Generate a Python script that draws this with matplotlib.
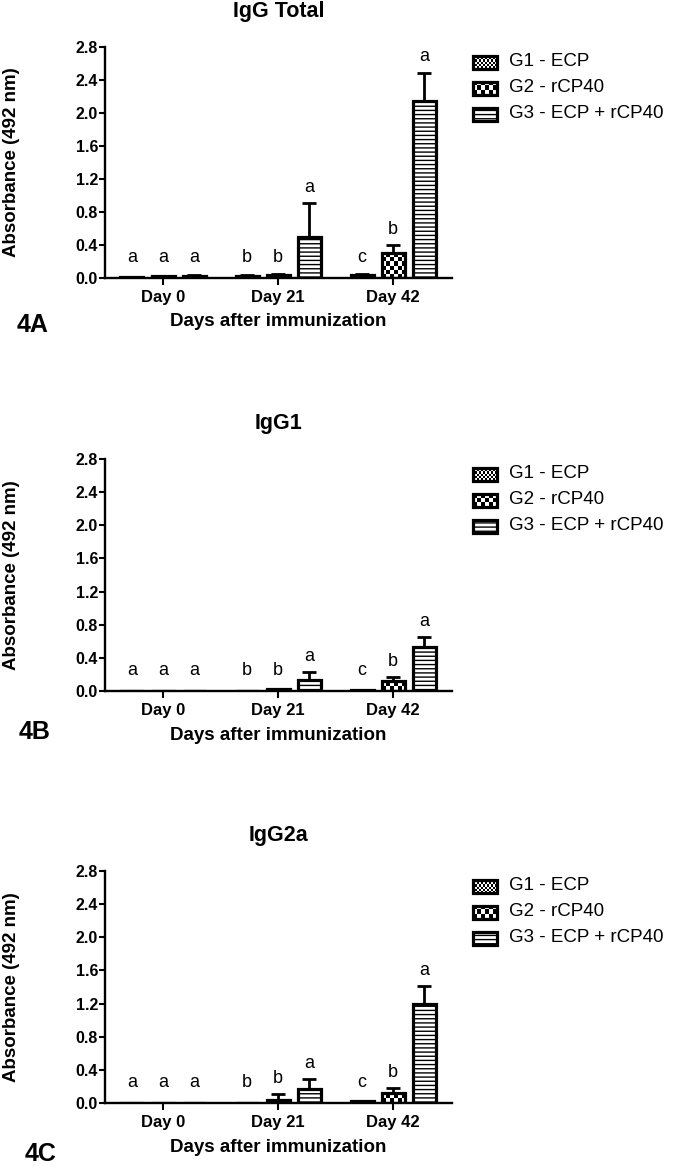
import numpy as np
import matplotlib
matplotlib.use('Agg')
import matplotlib.pyplot as plt

plt.rcParams['font.family'] = ['Liberation Sans', 'DejaVu Sans']
plt.rcParams['hatch.linewidth'] = 1.0

# ---------------- data ----------------
days = ['Day 0', 'Day 21', 'Day 42']
groups = ['G1 - ECP', 'G2 - rCP40', 'G3 - ECP + rCP40']
panel_titles = ['IgG Total', 'IgG1', 'IgG2a']
panel_tags = ['4A', '4B', '4C']
x_label = 'Days after immunization'
y_label = 'Absorbance (492 nm)'
y_ticks = [0.0, 0.4, 0.8, 1.2, 1.6, 2.0, 2.4, 2.8]

# means / upper SD, rows = groups (G1, G2, G3), columns = days
igg_total_mean = [[0.01, 0.03, 0.04], [0.02, 0.04, 0.30], [0.03, 0.50, 2.15]]
igg_total_err = [[0.005, 0.005, 0.005], [0.005, 0.005, 0.10], [0.005, 0.41, 0.34]]
igg1_mean = [[0.005, 0.005, 0.01], [0.005, 0.02, 0.12], [0.005, 0.13, 0.53]]
igg1_err = [[0.0, 0.0, 0.005], [0.0, 0.005, 0.05], [0.0, 0.10, 0.12]]
igg2a_mean = [[0.005, 0.005, 0.02], [0.005, 0.04, 0.12], [0.0, 0.17, 1.19]]
igg2a_err = [[0.0, 0.0, 0.005], [0.0, 0.07, 0.06], [0.0, 0.12, 0.22]]
# significance letters, rows = groups, columns = days
letters = [['a', 'b', 'c'], ['a', 'b', 'b'], ['a', 'a', 'a']]

panel_means = [igg_total_mean, igg1_mean, igg2a_mean]
panel_errs = [igg_total_err, igg1_err, igg2a_err]

# ---------------- layout (pixels) ----------------
W, H = 676, 1166
fig = plt.figure(figsize=(W / 100, H / 100), dpi=100)

def px_rect(left, top, right, bottom):
    return [left / W, 1 - bottom / H, (right - left) / W, (bottom - top) / H]

axes_px = [(105, 47, 452, 278), (105, 459, 452, 691), (105, 871, 452, 1103)]
tag_px = [(33, 325), (35, 732), (41, 1154)]
group_offsets = [-0.27, 0.0, 0.27]
bar_width = 0.2
checker_sizes = [2, 4, None]
hatches = [None, None, '----']

def fill_checker(ax, patch, sq):
    x0, y0 = patch.get_x(), patch.get_y()
    w, h = patch.get_width(), patch.get_height()
    bb = patch.get_window_extent()
    if bb.height < 1 or bb.width < 1:
        return
    nx = max(1, int(round(bb.width / sq)))
    ny = max(1, int(round(bb.height / sq)))
    img = (np.add.outer(np.arange(ny), np.arange(nx)) % 2).astype(float)
    im = ax.imshow(img, cmap='gray', vmin=0, vmax=1, extent=(x0, x0 + w, y0, y0 + h),
                   origin='lower', aspect='auto', interpolation='nearest',
                   zorder=patch.get_zorder() - 0.5)
    im.set_clip_path(patch)

def styled_bars(ax, x, vals, g, width, **kw):
    face = 'white' if hatches[g] else 'none'
    bars = ax.bar(x, vals, width=width, facecolor=face, edgecolor='black',
                  linewidth=2.3, hatch=hatches[g], zorder=2, **kw)
    if checker_sizes[g]:
        for b in bars:
            fill_checker(ax, b, checker_sizes[g])
    return bars

xlim = (-0.504, 2.51)
ylim = (0, 2.8)

for p in range(3):
    l, t, r, b = axes_px[p]
    ax = fig.add_axes(px_rect(l, t, r, b))
    ax.set_xlim(*xlim)
    ax.set_ylim(*ylim)
    means = panel_means[p]
    errs = panel_errs[p]
    for g in range(3):
        xs = np.arange(len(days)) + group_offsets[g]
        styled_bars(ax, xs, means[g], g, bar_width)
        ax.errorbar(xs, means[g], yerr=[np.zeros(len(days)), errs[g]], fmt='none',
                    ecolor='black', elinewidth=2, capsize=4.7, capthick=2, zorder=3)
        for d in range(len(days)):
            top = max(means[g][d] + errs[g][d], 0.06)
            ax.text(xs[d], top + 0.19, letters[g][d], ha='center', va='center',
                    fontsize=13, zorder=4)
    ax.set_xlim(*xlim)
    ax.set_ylim(*ylim)
    ax.set_xticks(np.arange(len(days)))
    ax.set_xticklabels(days, fontsize=12, fontweight='bold')
    ax.set_yticks(y_ticks)
    ax.set_yticklabels([f'{v:.1f}' for v in y_ticks], fontsize=11.5, fontweight='bold')
    for s in ['top', 'right']:
        ax.spines[s].set_visible(False)
    for s in ['left', 'bottom']:
        ax.spines[s].set_linewidth(1.7)
    ax.tick_params(axis='y', width=1.5, length=4.5, pad=0.5)
    ax.tick_params(axis='x', width=1.5, length=5, pad=3.5)

    ax.annotate(panel_titles[p], xy=(0.5, 1), xycoords='axes fraction',
                xytext=(0, 35), textcoords='offset pixels', ha='center', va='center',
                fontsize=15.5, fontweight='bold')
    ax.annotate(x_label, xy=(0.5, 0), xycoords='axes fraction',
                xytext=(0, -44), textcoords='offset pixels', ha='center', va='center',
                fontsize=13.5, fontweight='bold')
    ax.annotate(y_label, xy=(0, 0.5), xycoords='axes fraction',
                xytext=(-93, 0), textcoords='offset pixels', ha='center', va='center',
                rotation=90, fontsize=13.5, fontweight='bold')
    fig.text(tag_px[p][0] / W, 1 - tag_px[p][1] / H, panel_tags[p], ha='center',
             va='center', fontsize=18, fontweight='bold')

    # legend
    for g in range(3):
        cy = t + 15 + 26 * g
        hax = fig.add_axes(px_rect(473, cy - 6.5, 497, cy + 6.5))
        hax.set_xlim(0, 1)
        hax.set_ylim(0, 1)
        hax.axis('off')
        styled_bars(hax, [0.5], [1.0], g, 1.0, clip_on=False)
        hax.set_xlim(0, 1)
        hax.set_ylim(0, 1)
        fig.text(509 / W, 1 - cy / H, groups[g], ha='left', va='center', fontsize=13.5)

fig.savefig('out.png', dpi=100)
